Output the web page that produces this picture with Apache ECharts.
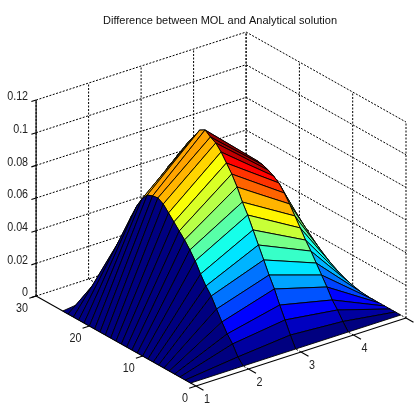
<!DOCTYPE html>
<html>
<head>
<meta charset="utf-8">
<style>html,body{margin:0;padding:0;background:#fff}#c{width:414px;height:405px}</style>
<script src="https://cdn.jsdelivr.net/npm/echarts@6/dist/echarts.min.js"></script>
</head>
<body>
<div id="c"></div>
<script>
const titleText = 'Difference between MOL and Analytical solution';
const xValues = [1, 2, 3, 4, 5];
const yValues = [1,2,3,4,5,6,7,8,9,10,11,12,13,14,15,16,17,18,19,20,21,22,23,24,25];
const zAtX1 = [0,0,0,0,0,0,0,0,0,0,0,0,0,0,0,0,0,0,0,0,0,0,0,0,0];
const zAtX2 = [0,.0037,.0098,.0141,.0196,.0257,.0318,.0361,.0416,.0478,.0527,.0570,.0606,.0643,.0680,.0716,.0735,.0729,.0716,.0674,.0610,.0530,.0430,.0270,.0040];
const zAtX3 = [0,.0067,.0141,.0214,.0294,.0361,.0435,.0508,.0582,.0655,.0716,.0790,.0851,.0900,.0949,.0986,.1004,.1029,.1010,.0955,.0906,.0845,.0790,.0729,.0674];
const zAtX4 = [0,.0046,.0098,.0141,.0202,.0257,.0312,.0367,.0416,.0472,.0527,.0582,.0631,.0674,.0698,.0716,.0729,.0735,.0716,.0674,.0612,.0539,.0453,.0355,.0263];
const zAtX5 = [0,0,0,0,0,0,0,0,0,0,0,0,0,0,0,0,0,0,0,0,0,0,0,0,0];
const xTicks = [1, 2, 3, 4, 5];
const yTicks = [0, 10, 20, 30];
const zTicks = [0, 0.02, 0.04, 0.06, 0.08, 0.1, 0.12];
const xLabels = ['1', '2', '3', '4'];
const yLabels = ['0', '10', '20', '30'];
const zLabels = ['0', '0.02', '0.04', '0.06', '0.08', '0.1', '0.12'];

const zColumns = [zAtX1, zAtX2, zAtX3, zAtX4, zAtX5];

// Orthographic view of the box: where the front floor corner lands and how each axis runs.
const view = {ox: 196, oy: 386, xdx: 52.5, xdy: -17, ydx: -5.33, ydy: -3, zdy: -1633};
function project(x, y, z) {
  return [view.ox + (x - 1) * view.xdx + y * view.ydx,
          view.oy + (x - 1) * view.xdy + y * view.ydy + z * view.zdy];
}

// MATLAB jet, 64 steps
const zMax = Math.max.apply(null, zAtX3);
function jet(v) {
  const t = Math.min(63, Math.floor(v / zMax * 64)) / 63;
  const ch = function (c) { return Math.round(255 * Math.max(0, Math.min(1, 1.5 - Math.abs(4 * t - c)))); };
  return 'rgb(' + ch(3) + ',' + ch(2) + ',' + ch(1) + ')';
}

// Faces painted far to near
const faces = [];
for (let j = yValues.length - 2; j >= 0; j--) {
  for (let i = xValues.length - 2; i >= 0; i--) faces.push([i, j]);
}

const X0 = xTicks[0], X1 = xTicks[xTicks.length - 1];
const Y0 = yTicks[0], Y1 = yTicks[yTicks.length - 1];
const Z0 = zTicks[0], Z1 = zTicks[zTicks.length - 1];

// Box segments as axis-space end points: [x,y,z, x,y,z]
const segs = [];
zTicks.forEach(function (z) {
  segs.push([X0, Y1, z, X1, Y1, z]);
  segs.push([X1, Y1, z, X1, Y0, z]);
});
xTicks.forEach(function (x) {
  segs.push([x, Y1, Z0, x, Y1, Z1]);
  if (x > X0 && x < X1) segs.push([x, Y0, Z0, x, Y1, Z0]);
});
yTicks.forEach(function (y) {
  segs.push([X1, y, Z0, X1, y, Z1]);
  if (y > Y0 && y < Y1) segs.push([X0, y, Z0, X1, y, Z0]);
});
const axisSegs = [
  [X0, Y1, Z0, X0, Y1, Z1],
  [X0, Y0, Z0, X0, Y1, Z0],
  [X0, Y0, Z0, X1, Y0, Z0]
];
const tickSegs = [];
zTicks.forEach(function (z) { tickSegs.push([X0, Y1, z, X0 - 0.09, Y1, z]); });
yTicks.forEach(function (y) { tickSegs.push([X0, y, Z0, X0 - 0.13, y, Z0]); });
xTicks.forEach(function (x) { tickSegs.push([x, Y0, Z0, x, Y0 - 1.4, Z0]); });
const solidSegs = axisSegs.concat(tickSegs);

const labels = [];
const fontFamily = '"Liberation Sans", Arial, sans-serif';
zLabels.forEach(function (t, k) { labels.push({t: t, p: [X0, Y1, zTicks[k]], dx: -8, dy: -3, align: 'right'}); });
yLabels.forEach(function (t, k) { labels.push({t: t, p: [X0, yTicks[k], Z0], dx: yTicks[k] === 0 ? -11 : -14, dy: 13, align: 'center'}); });
xLabels.forEach(function (t, k) { labels.push({t: t, p: [xTicks[k], Y0, Z0], dx: 11, dy: 14, align: 'center'}); });

function px(api, p) { return api.coord(project(p[0], p[1], p[2])); }

const chart = echarts.init(document.getElementById('c'), null, {renderer: 'canvas'});
chart.setOption({
  animation: false,
  backgroundColor: '#fff',
  title: {
    text: titleText, left: 215, top: 10, textAlign: 'center',
    textStyle: {fontFamily: fontFamily, fontSize: 11, fontWeight: 'normal', color: '#111'}
  },
  grid: {left: 0, right: 0, top: 0, bottom: 0},
  xAxis: {type: 'value', min: 0, max: 414, show: false},
  yAxis: {type: 'value', min: 0, max: 405, inverse: true, show: false},
  series: [
    {
      name: 'grid', type: 'custom', coordinateSystem: 'cartesian2d', clip: false, silent: true,
      data: segs, z: 1, encode: {x: [], y: []},
      renderItem: function (params, api) {
        const s = segs[params.dataIndex];
        const a = px(api, s.slice(0, 3)), b = px(api, s.slice(3, 6));
        return {type: 'line', shape: {x1: a[0], y1: a[1], x2: b[0], y2: b[1]},
          style: {stroke: '#000', lineWidth: 1, lineDash: [2, 1.5], fill: null}};
      }
    },
    {
      name: 'axes', type: 'custom', coordinateSystem: 'cartesian2d', clip: false, silent: true,
      data: solidSegs, z: 2, encode: {x: [], y: []},
      renderItem: function (params, api) {
        const s = solidSegs[params.dataIndex];
        const a = px(api, s.slice(0, 3)), b = px(api, s.slice(3, 6));
        return {type: 'line', shape: {x1: a[0], y1: a[1], x2: b[0], y2: b[1]},
          style: {stroke: '#000', lineWidth: 1.1, fill: null}};
      }
    },
    {
      name: 'surface', type: 'custom', coordinateSystem: 'cartesian2d', clip: false, silent: true,
      data: faces, z: 3, encode: {x: [], y: []},
      renderItem: function (params, api) {
        const f = faces[params.dataIndex], i = f[0], j = f[1];
        const corner = function (a, b) { return px(api, [xValues[a], yValues[b], zColumns[a][b]]); };
        return {type: 'polygon',
          shape: {points: [corner(i, j), corner(i + 1, j), corner(i + 1, j + 1), corner(i, j + 1)]},
          style: {fill: jet(zColumns[i][j]), stroke: '#000', lineWidth: 0.9, lineJoin: 'round'}};
      }
    },
    {
      name: 'labels', type: 'custom', coordinateSystem: 'cartesian2d', clip: false, silent: true,
      data: labels.map(function (l, k) { return k; }), z: 4, encode: {x: [], y: []},
      renderItem: function (params, api) {
        const l = labels[params.dataIndex];
        const a = px(api, l.p);
        return {type: 'text', x: a[0] + l.dx, y: a[1] + l.dy, scaleX: 0.86,
          style: {text: l.t, fill: '#222', font: '12.5px ' + fontFamily, align: l.align, verticalAlign: 'middle'}};
      }
    }
  ]
});
</script>
</body>
</html>
